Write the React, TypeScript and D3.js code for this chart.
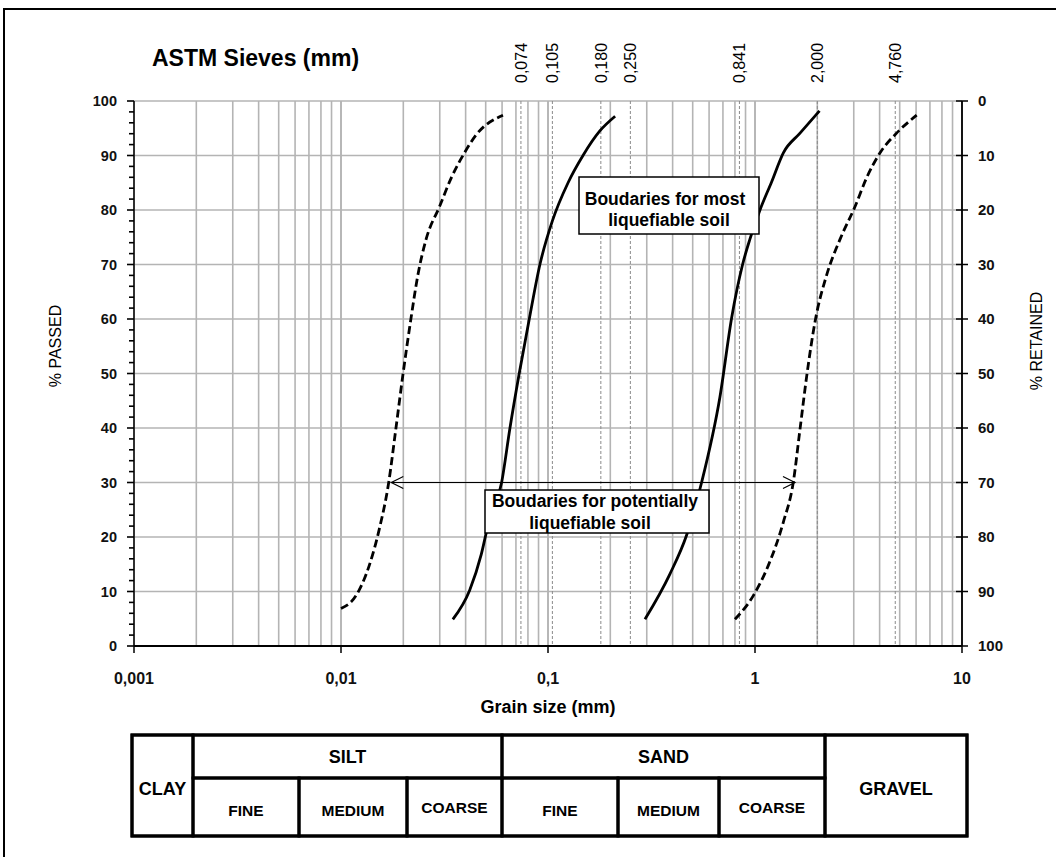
import React from "react";
import * as d3 from "d3";

// grain size (mm) and % passed
const potentialFineX = [0.01, 0.0118, 0.0137, 0.0153, 0.017, 0.0184, 0.0199, 0.0218, 0.0235, 0.0258, 0.0299, 0.0341, 0.0395, 0.045, 0.0606];
const potentialFineY = [6.9, 9.2, 14.8, 21.4, 30, 39.8, 49.7, 60.2, 68, 74.7, 80.6, 85.9, 90.5, 93.8, 97.4];
const mostFineX = [0.0347, 0.0418, 0.0476, 0.0512, 0.0597, 0.0655, 0.0726, 0.0812, 0.0914, 0.105, 0.125, 0.1476, 0.178, 0.211];
const mostFineY = [4.9, 10.2, 16.8, 22, 30, 40, 50, 60, 70, 78, 85, 90, 94.5, 97.2];
const mostCoarseX = [0.294, 0.388, 0.468, 0.552, 0.677, 0.771, 0.871, 0.946, 1.057, 1.204, 1.371, 1.65, 2.05];
const mostCoarseY = [4.9, 13.2, 20.4, 30, 45.7, 60.2, 70, 74.7, 80, 85.2, 90.5, 94.1, 98.2];
const potentialCoarseX = [0.8, 0.98, 1.16, 1.37, 1.53, 1.65, 1.78, 1.95, 2.22, 2.58, 3.04, 3.46, 4.02, 4.83, 6.04];
const potentialCoarseY = [4.9, 9.2, 14.8, 22.7, 30, 39.8, 49.7, 59.5, 68.1, 74.7, 80.6, 85.9, 90.5, 94.1, 97.4];

const sieves = [0.074, 0.105, 0.18, 0.25, 0.841, 2.0, 4.76];
const sieveLabels = ["0,074", "0,105", "0,180", "0,250", "0,841", "2,000", "4,760"];
const decadeTicks = [0.001, 0.01, 0.1, 1, 10];
const decadeLabels = ["0,001", "0,01", "0,1", "1", "10"];
const passedTicks = [0, 10, 20, 30, 40, 50, 60, 70, 80, 90, 100];
const arrowFrom = 0.0175;
const arrowTo = 1.56;
const arrowLevel = 30;

const W = 1056;
const H = 857;
const font = "'Liberation Sans', Arial, sans-serif";

const x = d3.scaleLog().domain([0.001, 10]).range([134, 962]);
const y = d3.scaleLinear().domain([0, 100]).range([646, 101]);

const minorX: number[] = [];
for (let d = 0.001; d < 10; d *= 10) {
  for (let k = 1; k <= 10; k++) minorX.push(+(d * k).toPrecision(3));
}

const line = d3
  .line<[number, number]>()
  .x((d) => x(d[0]))
  .y((d) => y(d[1]))
  .curve(d3.curveMonotoneX);

const zip = (a: number[], b: number[]) => a.map((v, i) => [v, b[i]] as [number, number]);

const curves = [
  { pts: zip(potentialFineX, potentialFineY), dash: "8,4" },
  { pts: zip(mostFineX, mostFineY), dash: "" },
  { pts: zip(mostCoarseX, mostCoarseY), dash: "" },
  { pts: zip(potentialCoarseX, potentialCoarseY), dash: "8,4" },
];

// soil classification table layout
const tTop = 735, tMid = 778, tBot = 836;
const headCells = [
  { label: "CLAY", x0: 132, x1: 193, full: true },
  { label: "SILT", x0: 193, x1: 502, full: false },
  { label: "SAND", x0: 502, x1: 825, full: false },
  { label: "GRAVEL", x0: 825, x1: 967, full: true },
];
const subCells = [
  { label: "FINE", x0: 193, x1: 299 },
  { label: "MEDIUM", x0: 299, x1: 407 },
  { label: "COARSE", x0: 407, x1: 502 },
  { label: "FINE", x0: 502, x1: 618 },
  { label: "MEDIUM", x0: 618, x1: 719 },
  { label: "COARSE", x0: 719, x1: 825 },
];

export default function App() {
  const ay = y(arrowLevel);
  const ax0 = x(arrowFrom);
  const ax1 = x(arrowTo);
  return (
    <svg width={W} height={H} style={{ position: "absolute", left: 0, top: 0, background: "#fff" }} fontFamily={font}>
      <rect x={4} y={9} width={W + 20} height={H + 20} fill="#fff" stroke="#000" strokeWidth={2} />

      {/* grid */}
      {minorX.map((v, i) => (
        <line key={"gx" + i} x1={x(v)} x2={x(v)} y1={y(100)} y2={y(0)} stroke="#b4b4b4" strokeWidth={1.6} />
      ))}
      {passedTicks.map((v) => (
        <line key={"gy" + v} x1={x(0.001)} x2={x(10)} y1={y(v)} y2={y(v)} stroke="#b4b4b4" strokeWidth={1.6} />
      ))}
      {sieves.map((s) => (
        <line key={"s" + s} x1={x(s)} x2={x(s)} y1={y(100)} y2={y(0)} stroke="#8a8a8a" strokeWidth={1} strokeDasharray="3,2" />
      ))}

      {/* axes */}
      <line x1={x(0.001)} x2={x(0.001)} y1={y(100)} y2={y(0)} stroke="#000" strokeWidth={1.5} />
      {d3.range(0, 101, 2).map((v) => (
        <line key={"lt" + v} x1={v % 10 === 0 ? 127 : 129} x2={134} y1={y(v)} y2={y(v)} stroke="#000" strokeWidth={1.6} />
      ))}
      <line x1={x(10)} x2={x(10)} y1={y(100)} y2={y(0)} stroke="#000" strokeWidth={1.8} />
      {passedTicks.map((v) => (
        <line key={"rt" + v} x1={x(10) - 6} x2={x(10) + 6} y1={y(v)} y2={y(v)} stroke="#000" strokeWidth={1.5} />
      ))}
      <line x1={x(0.001)} x2={x(10)} y1={y(0)} y2={y(0)} stroke="#000" strokeWidth={1.8} />
      {decadeTicks.map((v) => (
        <line key={"bt" + v} x1={x(v)} x2={x(v)} y1={y(0)} y2={y(0) + 7} stroke="#000" strokeWidth={1.5} />
      ))}

      {/* tick labels */}
      {passedTicks.map((v) => (
        <text key={"ll" + v} x={117} y={y(v) + 5} textAnchor="end" fontSize={14.5} fontWeight="bold" fill="#111">
          {v}
        </text>
      ))}
      {passedTicks.map((v) => (
        <text key={"rl" + v} x={978} y={y(v) + 5} textAnchor="start" fontSize={15} fontWeight="bold" fill="#111">
          {100 - v}
        </text>
      ))}
      {decadeTicks.map((v, i) => (
        <text key={"xl" + v} x={x(v)} y={684} textAnchor="middle" fontSize={16} fontWeight="bold" fill="#111">
          {decadeLabels[i]}
        </text>
      ))}
      {sieves.map((s, i) => (
        <text key={"sl" + s} transform={`translate(${x(s)},83) rotate(-90)`} dy="0.36em" fontSize={16} fill="#000">
          {sieveLabels[i]}
        </text>
      ))}

      <text x={152} y={66} fontSize={23} fontWeight="bold">ASTM Sieves (mm)</text>
      <text x={548} y={713} textAnchor="middle" fontSize={18} fontWeight="bold">Grain size (mm)</text>
      <text transform="translate(61,346) rotate(-90)" textAnchor="middle" fontSize={16} fill="#000">% PASSED</text>
      <text transform="translate(1042,341) rotate(-90)" textAnchor="middle" fontSize={16} fill="#000">% RETAINED</text>

      {/* curves */}
      {curves.map((c, i) => (
        <path key={"c" + i} d={line(c.pts) || ""} fill="none" stroke="#000" strokeWidth={2.8} strokeDasharray={c.dash || undefined} />
      ))}

      {/* arrow */}
      <line x1={ax0} x2={ax1} y1={ay} y2={ay} stroke="#000" strokeWidth={1.2} />
      <path d={`M${ax0 + 12},${ay - 6} L${ax0},${ay} L${ax0 + 12},${ay + 6}`} fill="none" stroke="#000" strokeWidth={1.2} />
      <path d={`M${ax1 - 12},${ay - 6} L${ax1},${ay} L${ax1 - 12},${ay + 6}`} fill="none" stroke="#000" strokeWidth={1.2} />

      {/* annotation boxes */}
      <rect x={579} y={177} width={180} height={57} fill="#fff" stroke="#000" strokeWidth={1.5} />
      <text x={665} y={205} textAnchor="middle" fontSize={17.5} fontWeight="bold">Boudaries for most</text>
      <text x={669} y={226} textAnchor="middle" fontSize={17.5} fontWeight="bold">liquefiable soil</text>
      <rect x={485} y={490} width={224} height={43} fill="#fff" stroke="#000" strokeWidth={1.5} />
      <text x={595} y={507} textAnchor="middle" fontSize={17.5} fontWeight="bold">Boudaries for potentially</text>
      <text x={590} y={529} textAnchor="middle" fontSize={17.5} fontWeight="bold">liquefiable soil</text>

      {/* classification table */}
      <rect x={132} y={tTop} width={967 - 132} height={tBot - tTop} fill="#fff" stroke="#000" strokeWidth={3} />
      {headCells.map((c) => (
        <g key={c.label}>
          <rect x={c.x0} y={tTop} width={c.x1 - c.x0} height={c.full ? tBot - tTop : tMid - tTop} fill="none" stroke="#000" strokeWidth={3} />
          <text x={(c.x0 + c.x1) / 2} y={c.full ? 795 : 763} textAnchor="middle" fontSize={18} fontWeight="bold">
            {c.label}
          </text>
        </g>
      ))}
      {subCells.map((c, i) => (
        <g key={"sub" + i}>
          <rect x={c.x0} y={tMid} width={c.x1 - c.x0} height={tBot - tMid} fill="none" stroke="#000" strokeWidth={3} />
          <text x={(c.x0 + c.x1) / 2} y={c.label === "COARSE" ? 813 : 816} textAnchor="middle" fontSize={15.5} fontWeight="bold">
            {c.label}
          </text>
        </g>
      ))}
    </svg>
  );
}
